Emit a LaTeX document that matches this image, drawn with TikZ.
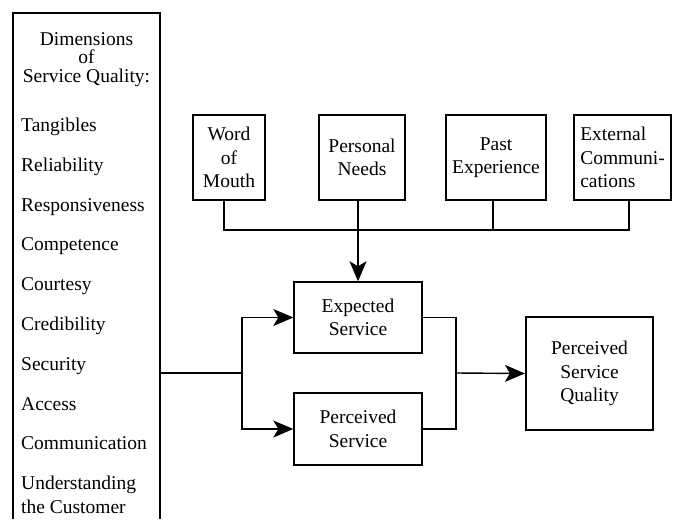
\documentclass[tikz,border=0pt]{standalone}
\usepackage{fontspec}
\setmainfont{Liberation Serif}
\usetikzlibrary{arrows.meta}

\begin{document}
\begin{tikzpicture}[x=1pt,y=-1pt,
    box/.style={draw, line width=1.4pt, align=center, inner sep=0pt,
      font=\fontsize{19.5}{23.5}\selectfont},
    item/.style={anchor=base west, inner sep=0pt, font=\fontsize{19.5}{23}\selectfont},
    wire/.style={line width=1.4pt},
    arr/.style={wire, -{Stealth[length=20pt,width=17pt,inset=5pt]}}]
    \useasboundingbox (0,0) rectangle (674,519);

    % Dimensions column, open at the bottom
    \draw[line width=1.6pt] (13,519) -- (13,13) -- (160,13) -- (160,519);
    \node[inner sep=0pt, anchor=north, align=center,
      font=\fontsize{19.5}{18.6}\selectfont] (dimhead) at (86.5,32) {Dimensions\\of\\Service Quality:};
    \foreach \txt [count=\i from 0] in {Tangibles,Reliability,Responsiveness,Competence,Courtesy,
        Credibility,Security,Access,Communication,Understanding}
      \node[item] (dim\i) at (21,131.5+39.8*\i) {\txt};
    \node[item] (dimlast) at (21,513) {the Customer};

    % Sources of expectation
    \node[box, minimum width=72pt, minimum height=85pt] (wom) at (229,157.5) {Word\\of\\Mouth};
    \node[box, minimum width=86pt, minimum height=85pt] (pn) at (362,157.5) {Personal\\Needs};
    \node[box, minimum width=100pt, minimum height=85pt] (pe) at (496,157.5) {Past\\Experience};
    \node[box, align=left, minimum width=97pt, minimum height=85pt] (ec) at (622.5,157.5) {External\\Communi-\\cations};

    % Service boxes
    \node[box, minimum width=128pt, minimum height=71pt] (es) at (358,317.5) {Expected\\Service};
    \node[box, minimum width=128pt, minimum height=72pt] (ps) at (358,429) {Perceived\\Service};
    \node[box, line width=2.2pt, minimum width=127pt, minimum height=113pt] (psq) at (589.5,373.5) {Perceived\\Service\\Quality};

    % Taps on the bus line
    \coordinate (womtap) at (224,230);
    \coordinate (pntap) at (358,230);
    \coordinate (petap) at (493,230);
    \coordinate (ectap) at (629,230);
    \coordinate (dimsout) at (160,373);
    \coordinate (split) at (242,373);
    \coordinate (join) at (456,373);

    \draw[wire] (wom.south -| womtap) -- (womtap) -- (ectap) -- (ec.south -| ectap);
    \draw[wire] (pn.south -| pntap) -- (pntap);
    \draw[wire] (pe.south -| petap) -- (petap);
    \draw[arr] (pntap) -- (es.north);

    % Split and join
    \draw[wire] (dimsout) -- (split);
    \draw[arr] (split) |- (es.west);
    \draw[arr] (split) |- (ps.west);
    \draw[wire] (es.east) -| (join);
    \draw[wire] (ps.east) -| (join);
    \draw[arr] (join) -- (psq.west);
\end{tikzpicture}
\end{document}
